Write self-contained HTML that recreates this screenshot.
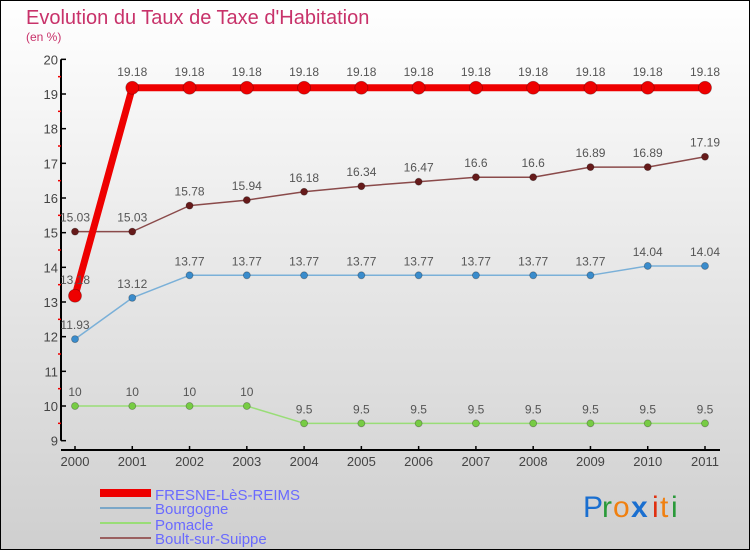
<!DOCTYPE html>
<html><head><meta charset="utf-8"><style>
body{margin:0}
#c{position:relative;width:750px;height:550px;overflow:hidden}
svg{display:block;font-family:"Liberation Sans",sans-serif}
</style></head><body>
<div id="c">
<svg id="s" width="750" height="550">
<defs><linearGradient id="bg" x1="0" y1="0" x2="0" y2="1"><stop offset="0" stop-color="#ffffff"/><stop offset="1" stop-color="#cfcfcf"/></linearGradient></defs>
<rect x="0.5" y="0.5" width="749" height="549" fill="url(#bg)" stroke="#000"/>
<text x="26" y="24" font-size="20" fill="#c8326a">Evolution du Taux de Taxe d'Habitation</text>
<text x="26" y="41" font-size="12" fill="#c8326a">(en %)</text>
<g id="axes"></g><g id="series"></g>
<g>
<rect x="100" y="489" width="51" height="8" fill="#e00"/>
<text x="155" y="500" font-size="15" fill="#6a6aff">FRESNE-LèS-REIMS</text>
<rect x="100" y="507" width="51" height="2" fill="#7ba7c8"/>
<text x="155" y="514" font-size="15" fill="#6a6aff">Bourgogne</text>
<rect x="100" y="522" width="51" height="2" fill="#99dd77"/>
<text x="155" y="530" font-size="15" fill="#6a6aff">Pomacle</text>
<rect x="100" y="537" width="51" height="2" fill="#9a6060"/>
<text x="155" y="544" font-size="15" fill="#6a6aff">Boult-sur-Suippe</text>
</g>
<g font-size="30" font-family="'Liberation Sans',sans-serif">
<text x="583" y="517" fill="#1a6fd0">P</text><text x="602" y="517" fill="#2a9a3a">r</text><text x="613" y="517" fill="#f08010">o</text><text x="631" y="517" fill="#1a6fd0" font-weight="bold">x</text><text x="652" y="517" fill="#e03010">i</text><text x="660" y="517" fill="#f08010">t</text><text x="671" y="517" fill="#2a9a3a">i</text>
</g>
</svg></div>
<script>
const years=["2000","2001","2002","2003","2004","2005","2006","2007","2008","2009","2010","2011"];
const fresne=[13.18,19.18,19.18,19.18,19.18,19.18,19.18,19.18,19.18,19.18,19.18,19.18];
const bourgogne=[11.93,13.12,13.77,13.77,13.77,13.77,13.77,13.77,13.77,13.77,14.04,14.04];
const pomacle=[10,10,10,10,9.5,9.5,9.5,9.5,9.5,9.5,9.5,9.5];
const boult=[15.03,15.03,15.78,15.94,16.18,16.34,16.47,16.6,16.6,16.89,16.89,17.19];
const yTicks=[9,10,11,12,13,14,15,16,17,18,19,20];
const NS="http://www.w3.org/2000/svg";
const X=i=>75+i*(705-75)/11;
const Y=v=>406-(v-10)*(312/9);
function mk(tag,attrs,parent,txt){const e=document.createElementNS(NS,tag);for(const k in attrs)e.setAttribute(k,attrs[k]);if(txt!=null)e.textContent=txt;parent.appendChild(e);return e;}
const ax=document.getElementById('axes');
let l=mk('line',{x1:61,y1:Y(20),x2:61,y2:Y(9),stroke:'#000','stroke-width':2},ax);


l=mk('line',{x1:61,y1:450,x2:720,y2:450,stroke:'#000','stroke-width':2},ax);


yTicks.forEach(v=>{
 const t=mk('line',{x1:61,y1:Y(v),x2:66,y2:Y(v),stroke:'#000','stroke-width':1.5},ax);
 
 
 const lb=mk('text',{x:58,y:Y(v)+5,'font-size':13,fill:'#444','text-anchor':'end'},ax,String(v));
 
 
 if(v<20){const m=mk('line',{x1:58,y1:Y(v+0.5),x2:61,y2:Y(v+0.5),stroke:'#e00','stroke-width':1.5},ax);
 
 }
});
years.forEach((y,i)=>{
 const t=mk('line',{x1:X(i),y1:446,x2:X(i),y2:450,stroke:'#000','stroke-width':1.5},ax);
 
 
 const lb=mk('text',{x:X(i),y:466,'font-size':13,fill:'#444','text-anchor':'middle'},ax,y);
 
 
});
const sg=document.getElementById('series');
function draw(vals,name,color,w,r,mcol,labelOff){
 const g=mk('g',{},sg);
 
 
 const p=mk('polyline',{points:vals.map((v,i)=>X(i)+','+Y(v)).join(' '),fill:'none',stroke:color,'stroke-width':w,'stroke-linejoin':'round'},g);
 
 
 vals.forEach((v,i)=>{
  const c=mk('circle',{cx:X(i),cy:Y(v),r:r,fill:mcol,stroke:'rgba(0,0,0,0.3)','stroke-width':0.8},g);
  
  
  const t=mk('text',{x:X(i),y:Y(v)-labelOff,'font-size':12,fill:'#555','text-anchor':'middle'},g,String(v));
  
  
 });
}
draw(pomacle,'pomacle','#99dd77',1.5,3.5,'#77cc44',10);
draw(bourgogne,'bourgogne','#7ab0d8',1.5,3.5,'#3a8ccc',10);
draw(boult,'boult','#8a4a4a',1.5,3.5,'#661a1a',10);
draw(fresne,'fresne','#ee0000',7,6.5,'#ee0000',12);
</script>
</body></html>
